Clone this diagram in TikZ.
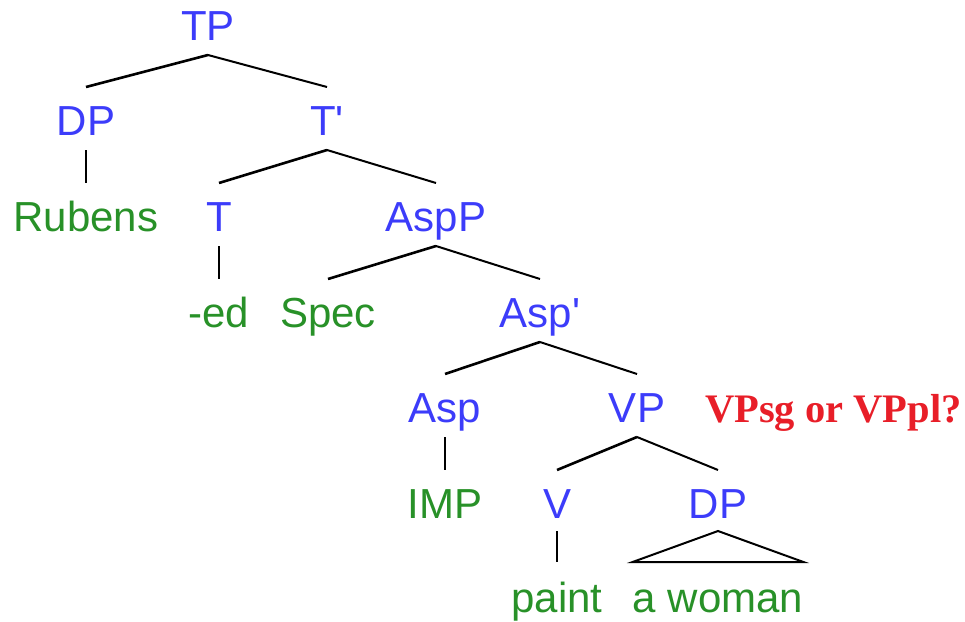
\documentclass[tikz,border=0pt]{standalone}
\usepackage{fontspec}
\setmainfont{Liberation Sans}[Ligatures=TeXOff]
\newfontfamily\qfont{Liberation Serif}
\usetikzlibrary{calc}
\definecolor{catblue}{RGB}{60,60,250}
\definecolor{wordgreen}{RGB}{40,145,40}
\definecolor{qred}{RGB}{232,30,40}
\begin{document}
\begin{tikzpicture}[x=1pt,y=-1pt,
  cat/.style={text=catblue,inner sep=0pt,anchor=base,font=\fontsize{42}{50}\selectfont},
  word/.style={text=wordgreen,inner sep=0pt,anchor=base,font=\fontsize{42}{50}\selectfont},
  lbranch/.style={line width=2.6pt,black},
  rbranch/.style={line width=2pt,black},
  vbranch/.style={line width=2pt,black}]
\useasboundingbox (0,0) rectangle (965,621);
% nodes
\node[cat] (TP) at (208,40) {TP};
\node[cat] (DP) at (86,135) {DP};
\node[cat] (Tbar) at (327,135) {T'};
\node[word] (Rubens) at (86,231) {Rubens};
\node[cat] (T) at (219,231) {T};
\node[cat] (AspP) at (436,231) {AspP};
\node[word] (ed) at (219,327) {-ed};
\node[word] (Spec) at (328,327) {Spec};
\node[cat] (Aspbar) at (540,327) {Asp'};
\node[cat] (Asp) at (445,422) {Asp};
\node[cat] (VP) at (637,422) {VP};
\node[text=qred,inner sep=0pt,anchor=base west,font=\qfont\bfseries\fontsize{40.5}{48}\selectfont] (q) at (705,422) {VPsg or VPpl?};
\node[word] (IMP) at (445,518) {IMP};
\node[cat] (V) at (557,518) {V};
\node[cat] (DPb) at (718,518) {DP};
\node[word] (paint) at (557,612) {paint};
\node[word] (woman) at (718,612) {a woman};
% branches
\draw[lbranch] ($(TP.base)+(0,15)$) -- ($(DP.base)+(0,-48)$);
\draw[rbranch] ($(TP.base)+(0,15)$) -- ($(Tbar.base)+(0,-48)$);
\draw[vbranch] ($(DP.base)+(0,15)$) -- ($(Rubens.base)+(0,-48)$);
\draw[lbranch] ($(Tbar.base)+(0,15)$) -- ($(T.base)+(0,-48)$);
\draw[rbranch] ($(Tbar.base)+(0,15)$) -- ($(AspP.base)+(0,-48)$);
\draw[vbranch] ($(T.base)+(0,15)$) -- ($(ed.base)+(0,-48)$);
\draw[lbranch] ($(AspP.base)+(0,15)$) -- ($(Spec.base)+(0,-48)$);
\draw[rbranch] ($(AspP.base)+(0,15)$) -- ($(Aspbar.base)+(0,-48)$);
\draw[lbranch] ($(Aspbar.base)+(0,15)$) -- ($(Asp.base)+(0,-48)$);
\draw[rbranch] ($(Aspbar.base)+(0,15)$) -- ($(VP.base)+(0,-48)$);
\draw[vbranch] ($(Asp.base)+(0,15)$) -- ($(IMP.base)+(0,-48)$);
\draw[lbranch] ($(VP.base)+(0,15)$) -- ($(V.base)+(0,-48)$);
\draw[rbranch] ($(VP.base)+(0,15)$) -- ($(DPb.base)+(0,-48)$);
\draw[vbranch] ($(V.base)+(0,13)$) -- ($(paint.base)+(0,-50)$);
\draw[rbranch,line join=miter] ($(DPb.base)+(0,13)$) -- ($(woman.base west)+(0,-50)$) -- ($(woman.base east)+(0,-50)$) -- cycle;
\end{tikzpicture}
\end{document}
